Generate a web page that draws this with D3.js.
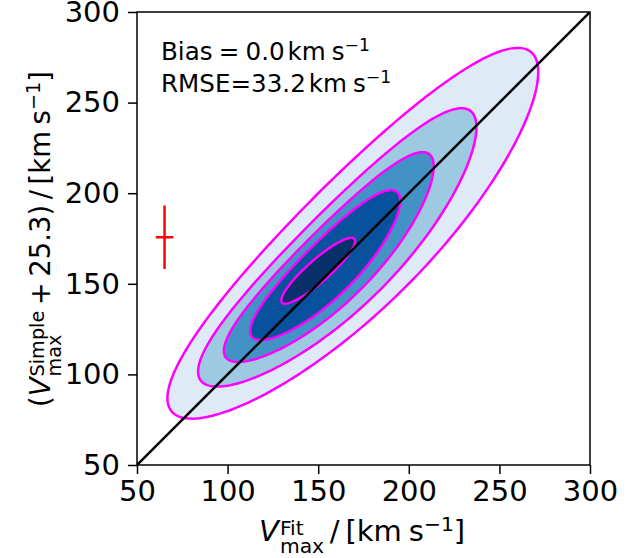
<!DOCTYPE html>
<html>
<head>
<meta charset="utf-8">
<script src="https://cdn.jsdelivr.net/npm/d3@7"></script>
<style>
  html, body { margin: 0; padding: 0; background: #fff; }
  svg { display: block; }
  text { font-family: "DejaVu Sans", sans-serif; fill: #000; }
</style>
</head>
<body>
<svg id="chart" width="641" height="558"></svg>
<script>
// Axis ticks
const xTicks = [50, 100, 150, 200, 250, 300];
const yTicks = [50, 100, 150, 200, 250, 300];

// Density contour levels, outermost first (data units, km/s)
const contourCx    = [173.5, 165.3, 159.5, 155.7, 150.0];
const contourCy    = [173.5, 165.3, 161.1, 158.5, 157.2];
const contourA     = [140.3, 105.3, 79.4, 56.6, 26.6];   // semi-major
const contourB     = [35.3, 26.5, 19.9, 14.9, 6.1];      // semi-minor
const contourAngle = [45, 45, 45, 45, 41.4];             // degrees
const contourBend  = [6.6, 7.2, 5.5, 2.8, 0];            // end offset across the axis
const contourFill  = ["#deebf7", "#9ecae1", "#4292c6", "#08519c", "#08306b"];

// Typical uncertainty marker
const errCenter = [65.2, 175.7];
const errX = 4.8;
const errY = 17.5;

// Summary statistics
const biasValue = "0.0";
const rmseValue = "33.2";

const svg = d3.select("#chart");
const x = d3.scaleLinear().domain([50, 300]).range([137, 590]);
const y = d3.scaleLinear().domain([50, 300]).range([465, 12]);

svg.append("defs").append("clipPath").attr("id", "plotclip")
  .append("rect").attr("x", 137).attr("y", 12).attr("width", 453).attr("height", 453);

const plot = svg.append("g").attr("clip-path", "url(#plotclip)");

function contourPoints(i) {
  const phi = contourAngle[i] * Math.PI / 180;
  const ca = Math.cos(phi), sa = Math.sin(phi);
  return d3.range(0, 360, 2).map(deg => {
    const t = deg * Math.PI / 180;
    const u = contourA[i] * Math.cos(t);
    const v = contourB[i] * Math.sin(t) + contourBend[i] * Math.cos(t) ** 2;
    return [contourCx[i] + u * ca - v * sa, contourCy[i] + u * sa + v * ca];
  });
}

const line = d3.line().x(d => x(d[0])).y(d => y(d[1])).curve(d3.curveLinearClosed);
const levels = d3.range(contourFill.length);

plot.selectAll("path.fill").data(levels).join("path")
  .attr("class", "fill")
  .attr("d", i => line(contourPoints(i)))
  .attr("fill", i => contourFill[i])
  .attr("stroke", "none");

plot.selectAll("path.edge").data(levels).join("path")
  .attr("class", "edge")
  .attr("d", i => line(contourPoints(i)))
  .attr("fill", "none")
  .attr("stroke", "#ff00ff")
  .attr("stroke-width", 2.5);

// One-to-one line
plot.append("path")
  .attr("d", d3.line().x(d => x(d[0])).y(d => y(d[1]))([[50, 50], [300, 300]]))
  .attr("stroke", "#000").attr("stroke-width", 2.5).attr("fill", "none");

// Error cross
const err = svg.append("g").attr("stroke", "#ff0000").attr("stroke-width", 2.5);
err.append("line")
  .attr("x1", x(errCenter[0])).attr("x2", x(errCenter[0]))
  .attr("y1", y(errCenter[1] - errY)).attr("y2", y(errCenter[1] + errY));
err.append("line")
  .attr("x1", x(errCenter[0] - errX)).attr("x2", x(errCenter[0] + errX))
  .attr("y1", y(errCenter[1])).attr("y2", y(errCenter[1]));

// Axes
const tickFont = 29;
const xAxis = svg.append("g").attr("transform", "translate(0,465)")
  .call(d3.axisBottom(x).tickValues(xTicks).tickSize(9).tickPadding(6.5).tickFormat(d3.format("d")));
const yAxis = svg.append("g").attr("transform", "translate(137,0)")
  .call(d3.axisLeft(y).tickValues(yTicks).tickSize(9).tickPadding(8).tickFormat(d3.format("d")));
[xAxis, yAxis].forEach(a => {
  a.select(".domain").remove();
  a.selectAll(".tick line").attr("stroke", "#000").attr("stroke-width", 1.5);
  a.selectAll(".tick text").attr("font-family", "DejaVu Sans").attr("font-size", tickFont).attr("fill", "#000");
});

// Frame
svg.append("rect").attr("x", 137).attr("y", 12).attr("width", 453).attr("height", 453)
  .attr("fill", "none").attr("stroke", "#000").attr("stroke-width", 1.5);

// Math-style text layout: runs, superscripts and subscripts
function drawMath(g, items, size) {
  let cx = 0;
  items.forEach(it => {
    cx += (it.gap || 0) * size;
    if (it.sup !== undefined || it.sub !== undefined) {
      let w = 0;
      const s = size * 0.7;
      const supShift = it.sub !== undefined ? 0.21 : 0.36;
      if (it.sup !== undefined) {
        const t = g.append("text").attr("x", cx).attr("y", -supShift * size)
          .attr("font-size", s).text(it.sup);
        w = Math.max(w, t.node().getComputedTextLength());
      }
      if (it.sub !== undefined) {
        const t = g.append("text").attr("x", cx).attr("y", 0.41 * size)
          .attr("font-size", s).text(it.sub);
        w = Math.max(w, t.node().getComputedTextLength());
      }
      cx += w;
    } else {
      const t = g.append("text").attr("x", cx).attr("y", 0)
        .attr("font-size", size)
        .attr("font-style", it.italic ? "italic" : "normal")
        .text(it.t);
      cx += t.node().getComputedTextLength();
    }
  });
  return cx;
}

// Statistics annotation
const statSize = 24.6;
const biasG = svg.append("g").attr("transform", "translate(161,60)");
drawMath(biasG, [
  { t: "Bias" }, { t: "=", gap: 0.25 }, { t: biasValue, gap: 0.25 },
  { t: "km", gap: 0.12 }, { t: "s", gap: 0.24 }, { sup: "\u22121" }
], statSize);
const rmseG = svg.append("g").attr("transform", "translate(161,92)");
drawMath(rmseG, [
  { t: "RMSE" }, { t: "=" }, { t: rmseValue },
  { t: "km", gap: 0.12 }, { t: "s", gap: 0.24 }, { sup: "\u22121" }
], statSize);

// Axis labels
const labelSize = 29;
const xl = svg.append("g");
const xw = drawMath(xl, [
  { t: "V", italic: true }, { sup: "Fit", sub: "max", gap: 0.04 },
  { t: "/", gap: 0.2 }, { t: "[km", gap: 0.2 }, { t: "s", gap: 0.24 },
  { sup: "\u22121" }, { t: "]" }
], labelSize);
xl.attr("transform", `translate(${362 - xw / 2},541)`);

const ylSize = 27.5;
const ylOuter = svg.append("g").attr("transform", "translate(50,239) rotate(-90)");
const yl = ylOuter.append("g");
const yw = drawMath(yl, [
  { t: "(" }, { t: "V", italic: true }, { sup: "Simple", sub: "max", gap: 0.04 },
  { t: "+", gap: 0.2 }, { t: "25.3", gap: 0.2 }, { t: ")" },
  { t: "/", gap: 0.2 }, { t: "[km", gap: 0.2 }, { t: "s", gap: 0.24 },
  { sup: "\u22121" }, { t: "]" }
], ylSize);
yl.attr("transform", `translate(${-yw / 2},0)`);
</script>
</body>
</html>
